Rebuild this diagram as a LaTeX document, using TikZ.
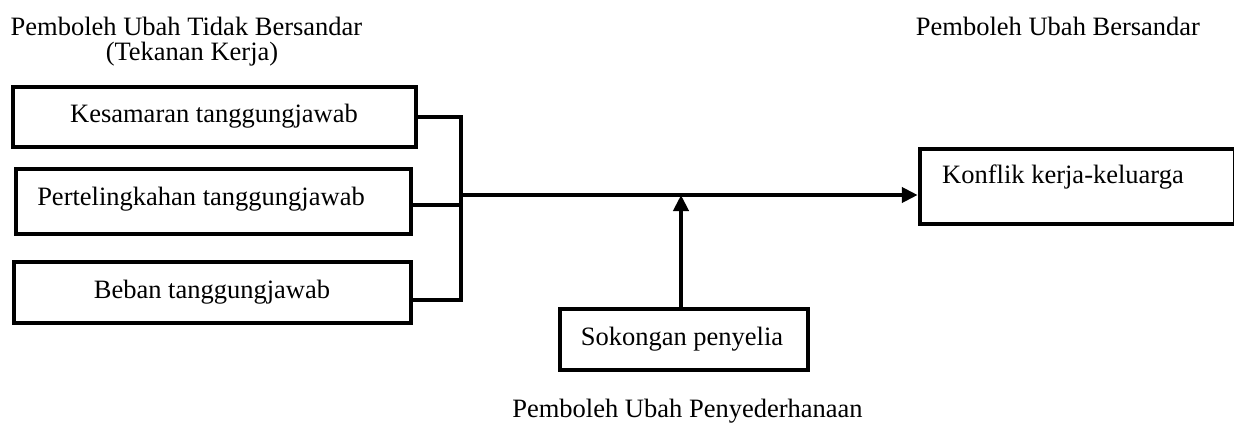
\documentclass[tikz,border=0pt]{standalone}
\usepackage{fontspec}
\setmainfont{Liberation Serif}
\usetikzlibrary{arrows.meta}
\begin{document}
\begin{tikzpicture}[x=1pt,y=-1pt,
  box/.style={draw=black,line width=4.5pt,rectangle,inner sep=0pt},
  lbl/.style={font=\fontsize{26.5}{30}\selectfont,inner sep=0pt,anchor=base},
  wire/.style={line width=4.5pt},
  arr/.style={line width=4.5pt,-{Triangle[length=16pt,width=15pt]}}]
\useasboundingbox (0,0) rectangle (1234,425);
% titles
\node[lbl] (t1) at (186.5,36) {Pemboleh Ubah Tidak Bersandar};
\node[lbl] (t2) at (192,61) {(Tekanan Kerja)};
\node[lbl] (t3) at (1058,36) {Pemboleh Ubah Bersandar};
\node[lbl] (t4) at (687.5,417) {Pemboleh Ubah Penyederhanaan};
% boxes
\node[box,minimum width=403pt,minimum height=60pt] (b1) at (214.5,117) {};
\node[box,minimum width=395pt,minimum height=65pt] (b2) at (213.5,201.5) {};
\node[box,minimum width=397pt,minimum height=61pt] (b3) at (212.5,292.5) {};
\node[box,minimum width=248pt,minimum height=61pt] (sok) at (684,339.5) {};
\node[box,minimum width=315pt,minimum height=75pt] (out) at (1077.5,186.5) {};
% box texts
\node[lbl] (k1) at (214,123) {Kesamaran tanggungjawab};
\node[lbl] (k2) at (201,205) {Pertelingkahan tanggungjawab};
\node[lbl] (k3) at (212,298) {Beban tanggungjawab};
\node[lbl] (ks) at (682,345) {Sokongan penyelia};
\node[lbl,anchor=base west] (ko) at (942,183) {Konflik kerja-keluarga};
% bracket
\coordinate (j1) at (461,117);
\coordinate (j2) at (461,205);
\coordinate (j3) at (461,300);
\coordinate (jm) at (461,195);
\coordinate (ja) at (681,195);
\draw[wire] (b1.east |- j1) -- (j1) -- (j3) -- (b3.east |- j3);
\draw[line width=3.5pt] (b2.east |- j2) -- (j2);
\draw[arr] (jm) -- (out.west |- jm);
\draw[arr] (ja |- sok.north) -- (ja);
\end{tikzpicture}
\end{document}
